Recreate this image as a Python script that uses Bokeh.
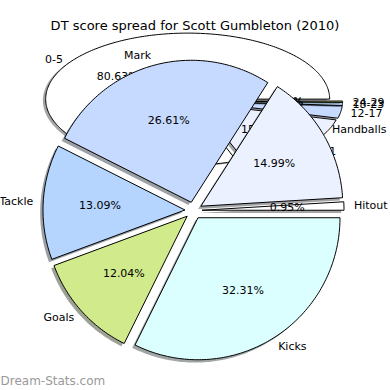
import numpy as np
from bokeh.plotting import figure
from bokeh.models import Range1d, ColumnDataSource
from bokeh.embed import file_html
from bokeh.resources import INLINE
from bokeh.core.properties import value

# ---------------- data ----------------
chart_title = "DT score spread for Scott Gumbleton (2010)"
watermark = "Dream-Stats.com"

spread_labels = ["0-5", "6-11", "12-17", "18-23", "24-29"]
spread_values = [80.63, 15.30, 3.02, 0.75, 0.30]
spread_colors = ["#FFFFFF", "#EBF1FF", "#C6D9FF", "#B5D5FF", "#D0EA8C"]

stat_labels = ["Kicks", "Goals", "Tackle", "Mark", "Handballs", "Hitout"]
stat_values = [32.31, 12.04, 13.09, 26.61, 14.99, 0.95]
stat_colors = ["#DBFFFF", "#D0EA8C", "#B5D5FF", "#C6D9FF", "#EBF1FF", "#FFFFFF"]

# ---------------- layout (reference pixel space, y down) ----------------
REF = 390
SIZE = 390
FONT = value("DejaVu Sans")


def hexrgb(h):
    h = h.lstrip("#")
    return tuple(int(h[i:i + 2], 16) for i in (0, 2, 4))


def shade(h):
    r, g, b = hexrgb(h)
    return "#%02x%02x%02x" % (int(r * 0.3), int(g * 0.3), int(b * 0.3))


def wedge_poly(cx, cy, rx, ry, a0, a1):
    n = max(4, int(abs(a1 - a0) / 1.0) + 2)
    t = np.radians(np.linspace(a0, a1, n))
    xs = [cx] + list(cx + rx * np.cos(t))
    ys = [cy] + list(cy - ry * np.sin(t))
    return xs, ys


def build_pie(values, labels, colors, cx, cy, rx, ry, start, direction,
              explode, sh_x, sh_y, lab_dist=1.07, pct_dist=0.6):
    patches = dict(xs=[], ys=[], fill=[], falpha=[], line=[], lalpha=[])
    labs = dict(x=[], y=[], text=[], align=[])
    pcts = dict(x=[], y=[], text=[])
    total = float(sum(values))
    a = start
    for v, lb, c in zip(values, labels, colors):
        span = 360.0 * v / total * direction
        a0, a1 = a, a + span
        mid = np.radians((a0 + a1) / 2.0)
        cm, sm = np.cos(mid), np.sin(mid)
        ex = cx + explode * rx * cm
        ey = cy - explode * ry * sm
        xs, ys = wedge_poly(ex, ey, rx, ry, a0, a1)
        # shadow
        patches["xs"].append([x + sh_x for x in xs])
        patches["ys"].append([y + sh_y for y in ys])
        patches["fill"].append(shade(c))
        patches["falpha"].append(0.5)
        patches["line"].append("#000000")
        patches["lalpha"].append(0.0)
        # wedge
        patches["xs"].append(xs)
        patches["ys"].append(ys)
        patches["fill"].append(c)
        patches["falpha"].append(1.0)
        patches["line"].append("#000000")
        patches["lalpha"].append(1.0)
        labs["x"].append(ex + lab_dist * rx * cm)
        labs["y"].append(ey - lab_dist * ry * sm)
        labs["text"].append(lb)
        labs["align"].append("left" if cm > 0 else "right")
        pcts["x"].append(ex + pct_dist * rx * cm)
        pcts["y"].append(ey - pct_dist * ry * sm)
        pcts["text"].append("%.2f%%" % v)
        a = a1
    return patches, labs, pcts


p = figure(width=SIZE, height=SIZE, x_range=Range1d(0, REF), y_range=Range1d(REF, 0),
           output_backend="svg", toolbar_location=None, min_border=0)
p.axis.visible = False
p.grid.visible = False
p.outline_line_color = None
p.background_fill_color = "white"
p.border_fill_color = "white"


def draw(pie):
    patches, labs, pcts = pie
    p.patches(xs="xs", ys="ys", source=ColumnDataSource(patches),
              fill_color="fill", fill_alpha="falpha",
              line_color="line", line_alpha="lalpha", line_width=1.0)
    p.text(x="x", y="y", text="text", source=ColumnDataSource(labs),
           text_align="align", text_baseline="middle", text_font=FONT,
           text_font_size=value("11px"), text_color="#000000")
    p.text(x="x", y="y", text="text", source=ColumnDataSource(pcts),
           text_align="center", text_baseline="middle", text_font=FONT,
           text_font_size=value("11px"), text_color="#000000")


# score-spread pie (squashed, behind)
draw(build_pie(spread_values, spread_labels, spread_colors,
               193, 100.5, 142, 66, 0.0, 1, 0.05, -2.8, 1.4, lab_dist=1.07))
# stats pie (front)
draw(build_pie(stat_values, stat_labels, stat_colors,
               193, 210, 142, 142, 0.0, -1, 0.06, -2.8, 2.8))

p.text(x=[194.5], y=[25], text=[chart_title], text_align="center",
       text_baseline="middle", text_font=FONT, text_font_size=value("13px"),
       text_color="#000000")
p.text(x=[0], y=[380], text=[watermark], text_align="left",
       text_baseline="middle", text_font=FONT, text_font_size=value("12px"),
       text_color="#999999")

open("out.html", "w").write(file_html(p, INLINE))
